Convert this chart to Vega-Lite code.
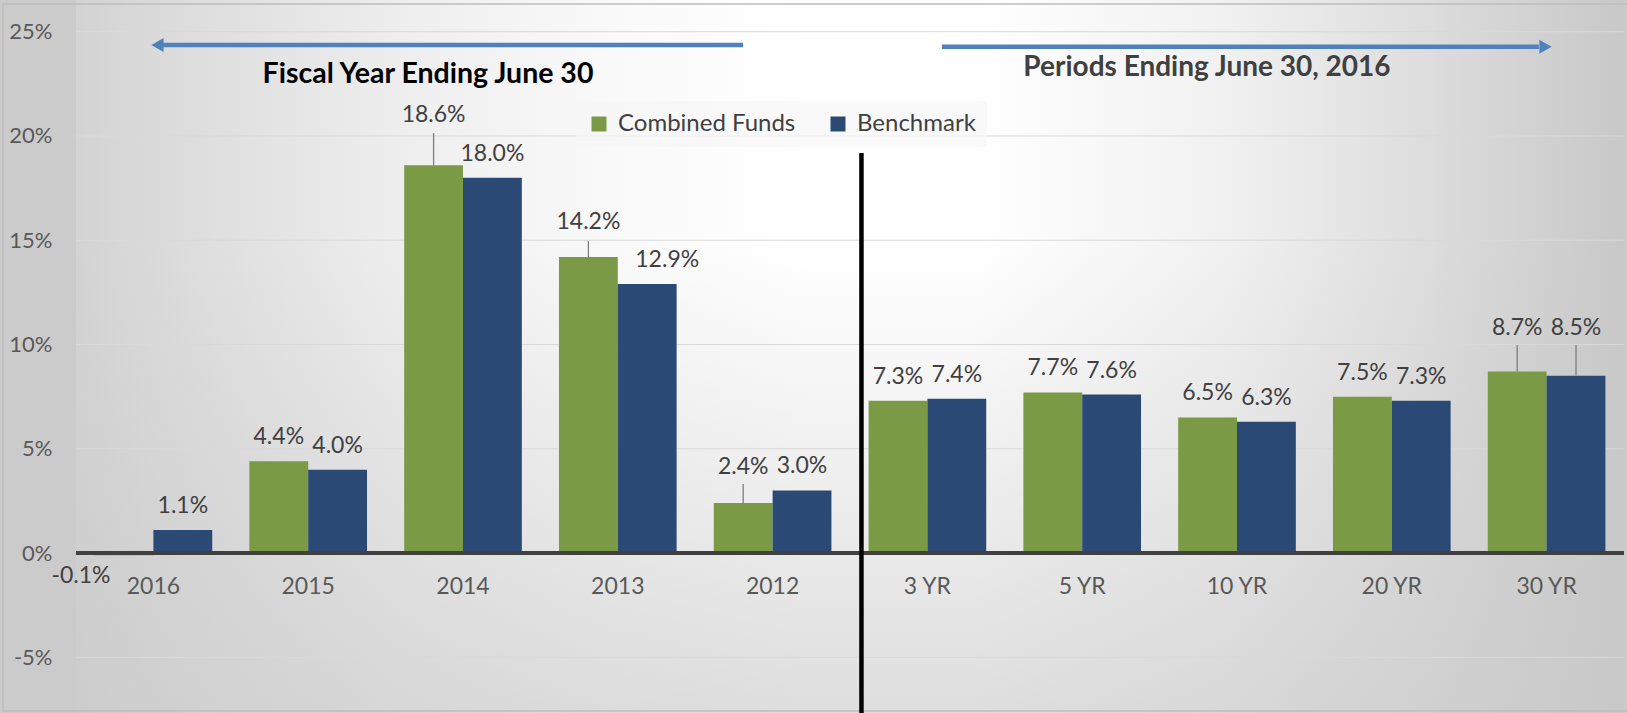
{
  "$schema": "https://vega.github.io/schema/vega-lite/v6.json",
  "width": 1548,
  "height": 713,
  "autosize": {"type": "none"},
  "padding": {"left": 76, "right": 3, "top": 0, "bottom": 0},
  "background": "#cbcbcb",
  "config": {
    "view": {"stroke": null},
    "locale": {"number": {"decimal": ".", "thousands": ",", "grouping": [3], "currency": ["$", ""], "minus": "-"}},
    "text": {"font": "Lato"},
    "axis": {"labelFont": "Lato"},
    "legend": {"labelFont": "Lato"}
  },
  "datasets": {
    "returns": [
      {"cat": "2016", "series": "Combined Funds", "value": -0.001, "labelAt": -0.011},
      {"cat": "2016", "series": "Benchmark", "value": 0.011},
      {"cat": "2015", "series": "Combined Funds", "value": 0.044},
      {"cat": "2015", "series": "Benchmark", "value": 0.040},
      {"cat": "2014", "series": "Combined Funds", "value": 0.186, "labelAt": 0.210, "leaderTop": 0.2014},
      {"cat": "2014", "series": "Benchmark", "value": 0.180},
      {"cat": "2013", "series": "Combined Funds", "value": 0.142, "labelAt": 0.1588, "leaderTop": 0.1496},
      {"cat": "2013", "series": "Benchmark", "value": 0.129},
      {"cat": "2012", "series": "Combined Funds", "value": 0.024, "labelAt": 0.0412, "leaderTop": 0.0331},
      {"cat": "2012", "series": "Benchmark", "value": 0.030},
      {"cat": "3 YR", "series": "Combined Funds", "value": 0.073},
      {"cat": "3 YR", "series": "Benchmark", "value": 0.074},
      {"cat": "5 YR", "series": "Combined Funds", "value": 0.077},
      {"cat": "5 YR", "series": "Benchmark", "value": 0.076},
      {"cat": "10 YR", "series": "Combined Funds", "value": 0.065},
      {"cat": "10 YR", "series": "Benchmark", "value": 0.063},
      {"cat": "20 YR", "series": "Combined Funds", "value": 0.075},
      {"cat": "20 YR", "series": "Benchmark", "value": 0.073},
      {"cat": "30 YR", "series": "Combined Funds", "value": 0.087, "labelAt": 0.1079, "leaderTop": 0.0998},
      {"cat": "30 YR", "series": "Benchmark", "value": 0.085, "labelAt": 0.1079, "leaderTop": 0.0998}
    ],
    "arrows": [
      {"from": 0.55, "to": 4.309, "at": 0.2436},
      {"from": 5.594, "to": 9.45, "at": 0.2428}
    ]
  },
  "resolve": {"scale": {"x": "independent"}},
  "layer": [
    {
      "data": {"values": [{}]},
      "layer": [
        {
          "mark": {"type": "rect", "fill": {"gradient": "linear", "x1": 0, "y1": 0, "x2": 1, "y2": 0, "stops": [
            {"offset": 0, "color": "#d3d3d3"},
            {"offset": 0.05, "color": "#dadada"},
            {"offset": 0.21, "color": "#eeeeee"},
            {"offset": 0.34, "color": "#f9f9f9"},
            {"offset": 0.47, "color": "#ffffff"},
            {"offset": 0.58, "color": "#ffffff"},
            {"offset": 0.74, "color": "#f1f1f1"},
            {"offset": 0.86, "color": "#dfdfdf"},
            {"offset": 1, "color": "#c8c8c8"}
          ]}},
          "encoding": {
            "x": {"datum": 0, "type": "quantitative", "scale": {"domain": [0, 10]}, "axis": null},
            "x2": {"datum": 10},
            "y": {"datum": 0.2652, "type": "quantitative", "title": null},
            "y2": {"datum": -0.0767}
          }
        },
        {
          "mark": {"type": "rect", "fill": {"gradient": "linear", "x1": 0, "y1": 0, "x2": 0, "y2": 1, "stops": [
            {"offset": 0, "color": "rgba(200,200,200,0)"},
            {"offset": 0.35, "color": "rgba(200,200,200,0)"},
            {"offset": 1, "color": "rgba(200,200,200,0.6)"}
          ]}},
          "encoding": {
            "x": {"datum": 0, "type": "quantitative", "scale": {"domain": [0, 10]}, "axis": null},
            "x2": {"datum": 10},
            "y": {"datum": 0.2652, "type": "quantitative", "title": null},
            "y2": {"datum": -0.0767}
          }
        }
      ]
    },
    {
      "data": {"name": "returns"},
      "layer": [
        {
          "data": {"values": [{"g": -0.05}, {"g": 0.05}, {"g": 0.10}, {"g": 0.15}, {"g": 0.20}, {"g": 0.25}]},
          "mark": {"type": "rule", "color": "#d9d9d9", "strokeWidth": 1},
          "encoding": {"y": {"field": "g", "type": "quantitative", "title": null}}
        },
        {
          "mark": {"type": "bar"},
          "encoding": {
            "x": {"field": "cat", "type": "nominal", "sort": null,
              "scale": {"paddingInner": 0.24, "paddingOuter": 0.12},
              "axis": {"orient": "bottom", "offset": -160, "title": null, "ticks": false, "domain": false, "labelAngle": 0, "labelPadding": 22, "labelFontSize": 23, "labelColor": "#595959", "zindex": 1}},
            "xOffset": {"field": "series", "type": "nominal", "sort": ["Combined Funds", "Benchmark"], "scale": {"paddingInner": 0, "paddingOuter": 0}},
            "y": {"field": "value", "type": "quantitative",
              "scale": {"domain": [-0.0767, 0.2652], "nice": false, "zero": false},
              "axis": {"values": [-0.05, 0, 0.05, 0.1, 0.15, 0.2, 0.25], "format": ".0%", "grid": false, "ticks": false, "domain": false, "labelPadding": 24, "labelFontSize": 22, "labelColor": "#595959", "title": null, "zindex": 1}},
            "color": {"field": "series", "type": "nominal", "sort": ["Combined Funds", "Benchmark"],
              "scale": {"range": ["#7b9a46", "#2a4a75"]},
              "legend": {"orient": "none", "legendX": 500, "legendY": 101, "direction": "horizontal", "title": null, "symbolType": "square", "symbolSize": 225, "symbolStrokeWidth": 0, "labelFontSize": 24, "labelLimit": 400, "labelColor": "#404040", "labelOffset": 7, "columnPadding": 30, "padding": 11, "fillColor": "rgba(246,246,246,0.7)"}}
          }
        },
        {
          "mark": {"type": "rule", "color": "#404040", "strokeWidth": 3},
          "encoding": {"y": {"datum": 0, "type": "quantitative", "title": null}}
        },
        {
          "transform": [{"filter": "datum.leaderTop != null"}],
          "mark": {"type": "rule", "color": "#7f7f7f", "strokeWidth": 1.3},
          "encoding": {
            "x": {"field": "cat", "type": "nominal", "sort": null, "title": null},
            "xOffset": {"field": "series", "type": "nominal", "sort": ["Combined Funds", "Benchmark"]},
            "y": {"field": "value", "type": "quantitative", "title": null},
            "y2": {"field": "leaderTop"}
          }
        },
        {
          "transform": [{"filter": "datum.labelAt == null && !(datum.cat == '2013' && datum.series == 'Benchmark')"}],
          "mark": {"type": "text", "dy": -24, "fontSize": 23, "color": "#404040", "baseline": "middle", "align": "center"},
          "encoding": {
            "x": {"field": "cat", "type": "nominal", "sort": null, "title": null},
            "xOffset": {"field": "series", "type": "nominal", "sort": ["Combined Funds", "Benchmark"]},
            "y": {"field": "value", "type": "quantitative", "title": null},
            "text": {"field": "value", "type": "quantitative", "format": ".1%"}
          }
        },
        {
          "transform": [{"filter": "datum.cat == '2013' && datum.series == 'Benchmark'"}],
          "mark": {"type": "text", "dy": -24, "dx": 20, "fontSize": 23, "color": "#404040", "baseline": "middle", "align": "center"},
          "encoding": {
            "x": {"field": "cat", "type": "nominal", "sort": null, "title": null},
            "xOffset": {"field": "series", "type": "nominal", "sort": ["Combined Funds", "Benchmark"]},
            "y": {"field": "value", "type": "quantitative", "title": null},
            "text": {"field": "value", "type": "quantitative", "format": ".1%"}
          }
        },
        {
          "transform": [{"filter": "datum.labelAt != null && datum.value >= 0"}],
          "mark": {"type": "text", "fontSize": 23, "color": "#404040", "baseline": "middle", "align": "center"},
          "encoding": {
            "x": {"field": "cat", "type": "nominal", "sort": null, "title": null},
            "xOffset": {"field": "series", "type": "nominal", "sort": ["Combined Funds", "Benchmark"]},
            "y": {"field": "labelAt", "type": "quantitative", "title": null},
            "text": {"field": "value", "type": "quantitative", "format": ".1%"}
          }
        },
        {
          "transform": [{"filter": "datum.value < 0"}],
          "mark": {"type": "text", "dx": -43, "fontSize": 23, "color": "#404040", "baseline": "middle", "align": "center"},
          "encoding": {
            "x": {"field": "cat", "type": "nominal", "sort": null, "title": null},
            "xOffset": {"field": "series", "type": "nominal", "sort": ["Combined Funds", "Benchmark"]},
            "y": {"field": "labelAt", "type": "quantitative", "title": null},
            "text": {"field": "value", "type": "quantitative", "format": ".1%"}
          }
        }
      ]
    },
    {
      "layer": [
        {
          "data": {"values": [{}]},
          "mark": {"type": "rect", "fill": null, "stroke": "#bdbdbd", "strokeWidth": 1.5},
          "encoding": {
            "x": {"datum": -0.4716, "type": "quantitative", "scale": {"domain": [0, 10]}, "axis": null},
            "x2": {"datum": 10.05},
            "y": {"datum": 0.2633, "type": "quantitative", "title": null},
            "y2": {"datum": -0.0758}
          }
        },
        {
          "data": {"values": [{}]},
          "mark": {"type": "rule", "color": "#000000", "strokeWidth": 4.5},
          "encoding": {
            "x": {"datum": 5.074, "type": "quantitative", "scale": {"domain": [0, 10]}, "axis": null},
            "y": {"datum": 0.1918, "type": "quantitative", "title": null},
            "y2": {"datum": -0.0767}
          }
        },
        {
          "data": {"name": "arrows"},
          "mark": {"type": "rule", "color": "#4f81bd", "strokeWidth": 4.5},
          "encoding": {
            "x": {"field": "from", "type": "quantitative", "scale": {"domain": [0, 10]}, "axis": null},
            "x2": {"field": "to"},
            "y": {"field": "at", "type": "quantitative", "title": null}
          }
        },
        {
          "data": {"values": [{}]},
          "mark": {"type": "point", "shape": "triangle-left", "filled": true, "size": 200, "color": "#4f81bd", "opacity": 1},
          "encoding": {
            "x": {"datum": 0.526, "type": "quantitative", "scale": {"domain": [0, 10]}, "axis": null},
            "y": {"datum": 0.2436, "type": "quantitative", "title": null}
          }
        },
        {
          "data": {"values": [{}]},
          "mark": {"type": "point", "shape": "triangle-right", "filled": true, "size": 200, "color": "#4f81bd", "opacity": 1},
          "encoding": {
            "x": {"datum": 9.493, "type": "quantitative", "scale": {"domain": [0, 10]}, "axis": null},
            "y": {"datum": 0.2428, "type": "quantitative", "title": null}
          }
        },
        {
          "data": {"values": [{}]},
          "mark": {"type": "text", "text": "Fiscal Year Ending June 30", "font": "Lato", "fontWeight": "bold", "fontSize": 28.5, "color": "#000000", "align": "center", "baseline": "middle"},
          "encoding": {
            "x": {"datum": 2.274, "type": "quantitative", "scale": {"domain": [0, 10]}, "axis": null},
            "y": {"datum": 0.2297, "type": "quantitative", "title": null}
          }
        },
        {
          "data": {"values": [{}]},
          "mark": {"type": "text", "text": "Periods Ending June 30, 2016", "font": "Lato", "fontWeight": "bold", "fontSize": 28, "color": "#404040", "align": "center", "baseline": "middle"},
          "encoding": {
            "x": {"datum": 7.306, "type": "quantitative", "scale": {"domain": [0, 10]}, "axis": null},
            "y": {"datum": 0.2326, "type": "quantitative", "title": null}
          }
        }
      ]
    }
  ]
}
